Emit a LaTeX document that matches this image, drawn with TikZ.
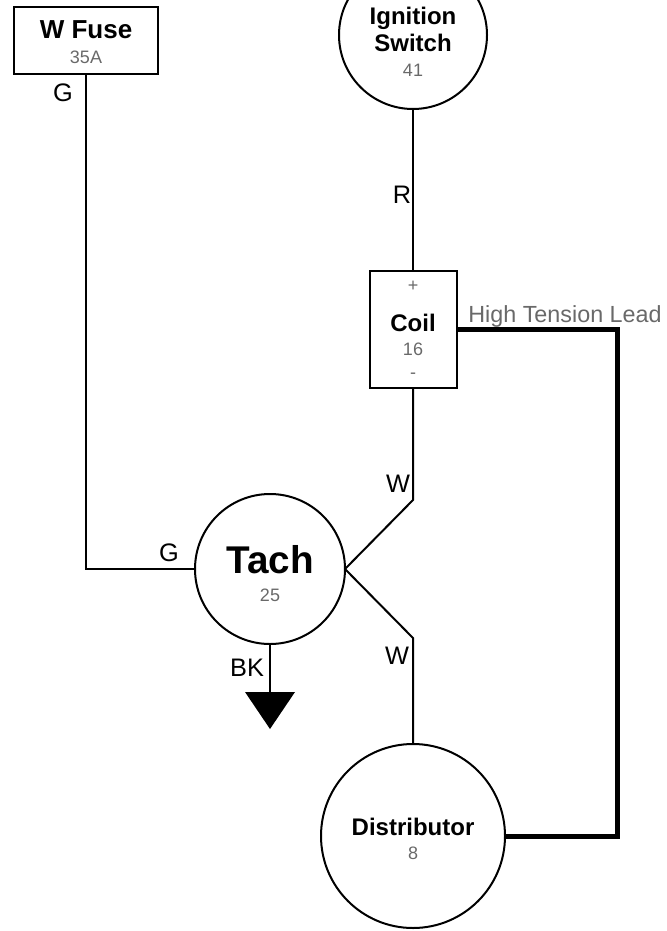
\documentclass[tikz,border=0pt]{standalone}
\usepackage{fontspec}
\setmainfont{Liberation Sans}
\usetikzlibrary{positioning}
\definecolor{PartGray}{RGB}{105,105,105}
\definecolor{WireBlack}{RGB}{0,0,0}

\begin{document}
\begin{tikzpicture}[x=0.75pt,y=-0.75pt,
  part/.style={draw=WireBlack, line width=1.5pt, inner sep=0pt, outer sep=0pt},
  wire/.style={draw=WireBlack, line width=1.5pt},
  htwire/.style={draw=WireBlack, line width=3.75pt},
  title/.style={font=\fontsize{18}{20}\selectfont\bfseries, anchor=base, inner sep=0pt},
  num/.style={font=\fontsize{13.5}{15}\selectfont, text=PartGray, anchor=base, inner sep=0pt},
  tag/.style={font=\fontsize{19}{21}\selectfont, anchor=base, inner sep=0pt}]

\useasboundingbox (0,0) rectangle (667,931);

% Parts
\node[part, rectangle, minimum width=108pt, minimum height=50.25pt] (fuse) at (86,40.5) {};
\node[part, circle, minimum size=111pt] (ign) at (413,35) {};
\node[part, rectangle, minimum width=65.25pt, minimum height=87.75pt] (coil) at (413,329.5) {};
\node[part, circle, minimum size=112.5pt] (tach) at (270,569) {};
\node[part, circle, minimum size=138pt] (dist) at (413,836) {};

% Part texts
\node[title, font=\fontsize{19.5}{21}\selectfont\bfseries] (fuseT) at (86,39) {W Fuse};
\node[num] (fuseN) at (86,64) {35A};
\node[title] (ignT) at (413,25) {Ignition};
\node[title] (ignS) at (413,52) {Switch};
\node[num] (ignN) at (413,76) {41};
\node[num, anchor=center] (coilP) at (413,286) {+};
\node[title] (coilT) at (413,331) {Coil};
\node[num] (coilN) at (413,355) {16};
\node[num, anchor=center] (coilM) at (413,376) {-};
\node[title, font=\fontsize{29}{31}\selectfont\bfseries] (tachT) at (270,573) {Tach};
\node[num] (tachN) at (270,601) {25};
\node[title] (distT) at (413,835) {Distributor};
\node[num] (distN) at (413,859) {8};

% Bends and ground
\coordinate (bendA) at (413,500);
\coordinate (bendB) at (413,638);
\coordinate (htBot) at (617,836);
\coordinate (gnd) at (270,692);

% Wires
\draw[wire] (fuse.south) |- (tach.west);
\draw[wire] (ign.south) -- (coil.north);
\draw[wire] (coil.south) -- (bendA) -- (tach.east);
\draw[wire] (tach.east) -- (bendB) -- (dist.north);
\draw[wire] (tach.south) -- (gnd);
\fill[WireBlack] (gnd) ++(-25,0) -- ++(50,0) -- ++(-25,37) -- cycle;

% High tension lead
\draw[htwire] (coil.east) -| (htBot) -- (dist.east);

% Wire colour tags
\node[tag] (tagG1) at (63,101) {G};
\node[tag] (tagR) at (402,203) {R};
\node[tag] (tagW1) at (398,492) {W};
\node[tag] (tagG2) at (169,561) {G};
\node[tag] (tagW2) at (397,664) {W};
\node[tag] (tagBK) at (247,676) {BK};
\node[tag, font=\fontsize{17.5}{20}\selectfont, text=PartGray] (tagHT) at (565,322) {High Tension Lead};

\end{tikzpicture}
\end{document}
